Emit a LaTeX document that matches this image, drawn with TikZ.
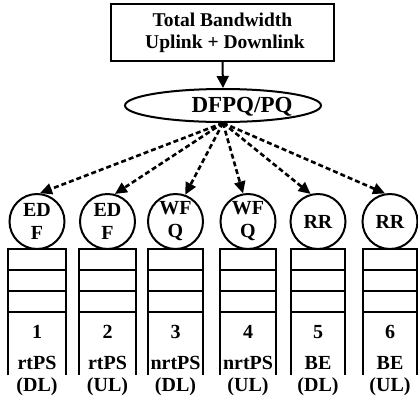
\documentclass[tikz,border=0pt]{standalone}
\usepackage{fontspec}
\setmainfont{Liberation Serif}
\usetikzlibrary{shapes.geometric,arrows.meta}
\begin{document}
\begin{tikzpicture}[x=1pt,y=-1pt,
  thickline/.style={line width=2pt},
  topbox/.style={draw,thickline,rectangle,minimum width=223pt,minimum height=57pt,inner sep=0pt,
    align=center,font=\fontsize{19.5}{22}\selectfont\bfseries},
  pqshape/.style={draw,thickline,ellipse,minimum width=196pt,minimum height=33pt,inner sep=0pt},
  pqlabel/.style={inner sep=0pt,font=\fontsize{23}{26}\selectfont\bfseries},
  sched/.style={draw,thickline,circle,minimum size=55pt,inner sep=0pt,align=center,
    font=\fontsize{20}{23}\selectfont\bfseries},
  qlabel/.style={inner sep=0pt,font=\fontsize{20}{24}\selectfont\bfseries},
  feed/.style={thickline,-{Triangle[length=12pt,width=12pt]}},
  share/.style={line width=2.6pt,dash pattern=on 5pt off 3pt,-{Triangle[length=12pt,width=11pt]}}
]
\useasboundingbox (0,0) rectangle (418,408);

% bandwidth source and scheduler
\node[topbox] (bw) at (222.5,32.5) {Total Bandwidth\\ \hspace*{5pt}Uplink + Downlink};
\node[pqshape] (pq) at (223,105.5) {};
\node[pqlabel] (pqtext) at (242,107) {DFPQ/PQ};
\draw[feed] (bw.south) -- (pq.north);

% service-flow queues with their schedulers
\foreach \i/\xl/\xr/\alg/\cls/\dir/\hit in {
  1/8/66/{ED\\F}/rtPS/(DL)/84,
  2/79/136/{ED\\F}/rtPS/(UL)/75,
  3/148/203/{WF\\Q}/nrtPS/(DL)/70,
  4/220/276/{WF\\Q}/nrtPS/(UL)/100,
  5/291/345/RR/BE/(DL)/105,
  6/363/417/RR/BE/(UL)/100} {
  \pgfmathsetmacro{\xc}{(\xl+\xr)/2}
  \draw[thickline] (\xl,375) -- (\xl,249) -- (\xr,249) -- (\xr,375);
  \foreach \yy in {270,291,312} \draw[thickline] (\xl,\yy) -- (\xr,\yy);
  \node[sched] (c\i) at (\xc,221.5) {\alg};
  \node[qlabel] (n\i) at (\xc,332) {\i};
  \node[qlabel] (k\i) at (\xc,363) {\cls};
  \node[qlabel] (d\i) at (\xc,387) {\dir};
  \draw[share] (pq.south) -- (c\i.\hit);
}
\end{tikzpicture}
\end{document}
